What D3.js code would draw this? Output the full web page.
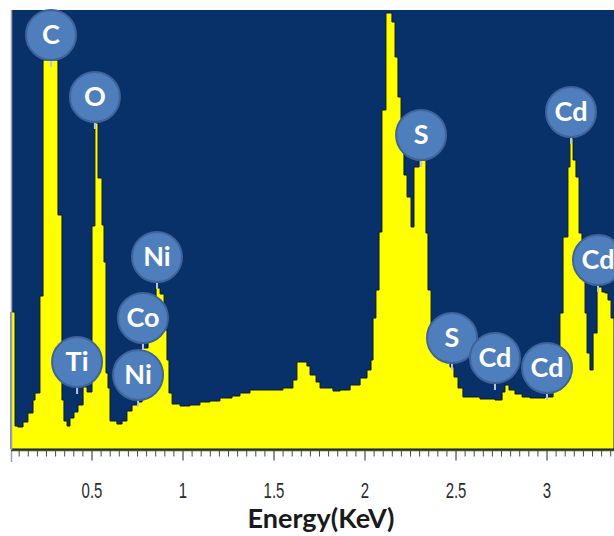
<!DOCTYPE html>
<html>
<head>
<meta charset="UTF-8" />
<title>EDS spectrum</title>
<script src="https://d3js.org/d3.v7.min.js"></script>
<style type="text/css">
body {
    margin: 0;
    background-color: white;
}
.tick-label {
    font-family: "Liberation Sans Narrow", "Arial Narrow", "Liberation Sans", sans-serif;
    font-size: 22px;
    fill: #2b2b2b;
}
.axis-title {
    font-family: Lato, "Open Sans", sans-serif;
    font-weight: bold;
    font-size: 27px;
    fill: #1a1a1a;
}
.peak-label text {
    font-family: Lato, "Open Sans", sans-serif;
    font-weight: bold;
    font-size: 27px;
    fill: white;
}
</style>
</head>
<body>
<svg id="chart" width="614" height="536"></svg>
<script>
// spectrum, step edges: energy (keV) where each level starts, counts of that level
var energy = [0.055, 0.077, 0.093, 0.121, 0.148, 0.176, 0.187, 0.214, 0.231, 0.313,
    0.335, 0.346, 0.363, 0.379, 0.401, 0.423, 0.451, 0.473, 0.500, 0.516,
    0.533, 0.555, 0.566, 0.577, 0.588, 0.599, 0.637, 0.665, 0.692, 0.720,
    0.747, 0.775, 0.808, 0.830, 0.852, 0.874, 0.896, 0.912, 0.923, 0.940,
    0.984, 1.038, 1.093, 1.148, 1.203, 1.269, 1.313, 1.368, 1.451, 1.549,
    1.604, 1.626, 1.681, 1.698, 1.731, 1.753, 1.824, 1.863, 1.918, 1.973,
    2.011, 2.033, 2.044, 2.060, 2.077, 2.093, 2.115, 2.148, 2.165, 2.181,
    2.198, 2.214, 2.231, 2.253, 2.269, 2.297, 2.335, 2.346, 2.363, 2.385,
    2.412, 2.440, 2.467, 2.489, 2.511, 2.538, 2.632, 2.714, 2.753, 2.769,
    2.791, 2.824, 2.863, 2.907, 2.989, 3.033, 3.055, 3.071, 3.088, 3.115,
    3.126, 3.143, 3.159, 3.176, 3.192, 3.209, 3.220, 3.236, 3.253, 3.275,
    3.302, 3.319, 3.335, 3.352, 3.368];
var counts = [1370, 230, 220, 270, 360, 490, 560, 1530, 3890, 2340,
    490, 280, 230, 310, 370, 440, 620, 570, 2230, 3260,
    2710, 2240, 1870, 760, 610, 280, 250, 280, 380, 440,
    470, 1010, 1160, 1310, 1610, 1550, 1190, 890, 560, 450,
    430, 440, 470, 480, 510, 530, 560, 590, 590, 610,
    690, 870, 830, 740, 670, 610, 580, 590, 640, 710,
    790, 890, 1310, 1590, 2170, 3390, 4360, 4270, 3920, 3520,
    2990, 2740, 2520, 2220, 2820, 2890, 2160, 1590, 1190, 1040,
    970, 910, 820, 720, 610, 520, 500, 490, 570, 640,
    590, 550, 520, 510, 520, 640, 890, 1360, 2120, 2820,
    3110, 2890, 2720, 2160, 1820, 1360, 960, 790, 1160, 1620,
    1570, 1560, 1490, 1310, 1310];

// peak labels: element, circle centre (keV, counts)
var labelNames = ["C", "O", "Ti", "Ni", "Co", "Ni", "S", "S", "Cd", "Cd", "Cd", "Cd"];
var labelEnergy = [0.275, 0.516, 0.418, 0.753, 0.780, 0.857, 2.308, 2.478, 2.714, 3.000, 3.132, 3.280];
var labelCounts = [4140, 3520, 870, 740, 1310, 1920, 3140, 1110, 910, 810, 3370, 1890];

var tickValues = [0.5, 1, 1.5, 2, 2.5, 3];
var tickLabels = ["0.5", "1", "1.5", "2", "2.5", "3"];

(function() {
    var svg = d3.select("#chart");
    var plotLeft = 11, plotRight = 614, plotTop = 10, plotBottom = 449;

    var x = d3.scaleLinear().domain([0.055, 3.368]).range([plotLeft, plotRight]);
    var y = d3.scaleLinear().domain([0, 4400]).range([plotBottom, plotTop - 1]);

    // plot background
    svg.append("rect")
        .attr("x", plotLeft).attr("y", plotTop)
        .attr("width", plotRight - plotLeft).attr("height", plotBottom - plotTop + 1)
        .attr("fill", "#08316a");

    // spectrum as step area
    var pts = energy.map(function(e, i) { return [e, counts[i]]; });
    var area = d3.area()
        .curve(d3.curveStepAfter)
        .x(function(d) { return x(d[0]); })
        .y0(y(0))
        .y1(function(d) { return y(d[1]); });

    svg.append("path")
        .datum(pts)
        .attr("d", area)
        .attr("fill", "#ffff00")
        .attr("stroke", "#0a1a30")
        .attr("stroke-width", 1);

    // left frame line
    svg.append("line")
        .attr("x1", plotLeft + 0.5).attr("x2", plotLeft + 0.5)
        .attr("y1", plotTop).attr("y2", 462)
        .attr("stroke", "#9aa3ad").attr("stroke-width", 1.5);

    // bottom axis with minor ticks every 0.05 keV
    var minor = d3.range(0.1, 3.36, 0.05).filter(function(v) {
        return Math.abs(v * 2 - Math.round(v * 2)) > 0.01;
    });
    var axisG = svg.append("g").attr("transform", "translate(0," + (plotBottom + 1.5) + ")");
    axisG.append("line")
        .attr("x1", plotLeft).attr("x2", plotRight)
        .attr("stroke", "#4a4a4a").attr("stroke-width", 1.5);
    axisG.selectAll("line.minor").data(minor).enter().append("line")
        .attr("class", "minor")
        .attr("x1", function(d) { return x(d); }).attr("x2", function(d) { return x(d); })
        .attr("y1", 0).attr("y2", 6)
        .attr("stroke", "#4a4a4a").attr("stroke-width", 1);
    axisG.selectAll("line.major").data(tickValues).enter().append("line")
        .attr("class", "major")
        .attr("x1", function(d) { return x(d); }).attr("x2", function(d) { return x(d); })
        .attr("y1", 0).attr("y2", 10)
        .attr("stroke", "#4a4a4a").attr("stroke-width", 1.2);
    // condensed look, the narrow font is not installed
    axisG.selectAll("text").data(tickValues).enter().append("text")
        .attr("class", "tick-label")
        .attr("transform", function(d) { return "translate(" + x(d) + ",47) scale(0.68,1)"; })
        .attr("text-anchor", "middle")
        .text(function(d, i) { return tickLabels[i]; });

    svg.append("text")
        .attr("class", "axis-title")
        .attr("x", 321).attr("y", 528)
        .attr("text-anchor", "middle")
        .text("Energy(KeV)");

    // peak labels
    var r = 25;
    var lab = svg.append("g").attr("class", "peak-label").selectAll("g")
        .data(labelNames).enter().append("g")
        .attr("transform", function(d, i) {
            return "translate(" + x(labelEnergy[i]) + "," + y(labelCounts[i]) + ")";
        });
    lab.append("line")
        .attr("x1", 0).attr("x2", 0)
        .attr("y1", r).attr("y2", r + 7)
        .attr("stroke", "#b8c6dc").attr("stroke-width", 2);
    lab.append("circle")
        .attr("r", r)
        .attr("fill", "#4f7ebd")
        .attr("stroke", "#3f6499")
        .attr("stroke-width", 2);
    lab.append("text")
        .attr("text-anchor", "middle")
        .attr("dy", "0.35em")
        .text(function(d) { return d; });
})();
</script>
</body>
</html>
